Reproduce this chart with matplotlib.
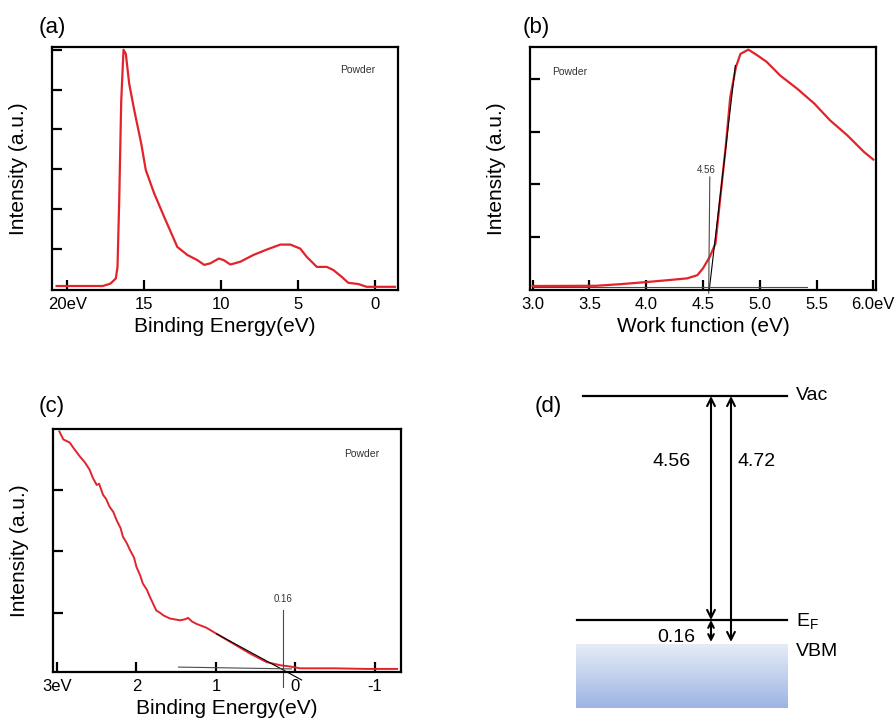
import numpy as np
import matplotlib
matplotlib.use("Agg")
import matplotlib.pyplot as plt

plt.rcParams['font.family'] = ['Liberation Sans', 'DejaVu Sans']
plt.rcParams['mathtext.fontset'] = 'custom'
plt.rcParams['mathtext.rm'] = 'Liberation Sans'

red = '#e2232b'
grey = '#4a4a4a'

# (a) full valence-band spectrum
be_a = [20.7, 17.7, 17.2, 16.85, 16.74, 16.63, 16.5, 16.35, 16.2, 15.98, 15.66, 15.2, 14.9,
        14.36, 13.7, 12.85, 12.2, 11.55, 11.1, 10.7, 10.15, 9.83, 9.4, 8.75, 7.9, 7.0, 6.15,
        5.5, 4.86, 4.43, 3.78, 3.13, 2.7, 2.16, 1.73, 1.08, 0.54, 0.0, -1.3]
int_a = [0.07, 0.07, 0.13, 0.26, 0.55, 2.2, 4.7, 6.0, 5.9, 5.15, 4.5, 3.65, 2.98,
         2.4, 1.8, 1.05, 0.85, 0.72, 0.6, 0.64, 0.76, 0.72, 0.61, 0.68, 0.85, 0.99, 1.11,
         1.11, 1.01, 0.8, 0.55, 0.55, 0.47, 0.3, 0.15, 0.12, 0.05, 0.05, 0.05]

# (b) secondary electron cutoff
wf_b = [3.0, 3.56, 3.77, 4.0, 4.21, 4.36, 4.45, 4.5, 4.56, 4.61, 4.65, 4.7, 4.74, 4.79,
        4.83, 4.9, 4.98, 5.06, 5.18, 5.33, 5.48, 5.62, 5.77, 5.92, 6.0]
int_b = [0.076, 0.08, 0.11, 0.15, 0.19, 0.22, 0.28, 0.41, 0.63, 0.88, 1.7, 2.71, 3.65, 4.22,
         4.47, 4.55, 4.44, 4.32, 4.06, 3.81, 3.53, 3.21, 2.93, 2.61, 2.47]
fit_b_x = [4.555, 4.785]
fit_b_y = [0.0, 4.25]
base_b_x = [3.0, 5.42]
base_b_y = [0.06, 0.06]
cut_b = 4.56

# (c) valence band edge
be_c = [2.97, 2.92, 2.84, 2.78, 2.71, 2.65, 2.59, 2.55, 2.5, 2.47, 2.42, 2.38, 2.34, 2.29,
        2.25, 2.2, 2.17, 2.12, 2.08, 2.03, 2.0, 1.95, 1.92, 1.87, 1.83, 1.79, 1.75, 1.7,
        1.66, 1.58, 1.45, 1.38, 1.35, 1.3, 1.24, 1.12, 0.99, 0.78, 0.57, 0.36, 0.19,
        0.07, -0.06, -0.48, -0.9, -1.28]
int_c = [3.95, 3.82, 3.77, 3.66, 3.54, 3.45, 3.33, 3.2, 3.08, 3.1, 2.92, 2.85, 2.73, 2.64,
         2.51, 2.38, 2.24, 2.13, 2.02, 1.9, 1.75, 1.6, 1.48, 1.38, 1.26, 1.15, 1.04, 1.0,
         0.96, 0.91, 0.88, 0.9, 0.92, 0.86, 0.82, 0.76, 0.66, 0.5, 0.34, 0.2, 0.15,
         0.13, 0.10, 0.10, 0.09, 0.09]
fit_c_x = [0.99, -0.08]
fit_c_y = [0.66, -0.09]
base_c_x = [1.47, 0.05]
base_c_y = [0.12, 0.09]
edge_c = 0.16

# (d) energy diagram
gap_vac_ef = 4.56
gap_vac_vbm = 4.72
gap_ef_vbm = 0.16

W, H = 896, 722
fig = plt.figure(figsize=(W / 100, H / 100), dpi=100)


def px_axes(x0, y0, x1, y1):
    return fig.add_axes([x0 / W, 1 - y1 / H, (x1 - x0) / W, (y1 - y0) / H])


def style(ax, ticks, labels, nyt, xlabel):
    ax.set_xticks(ticks)
    ax.set_xticklabels(labels)
    ax.set_yticks(range(1, nyt + 1))
    ax.set_yticklabels([])
    ax.tick_params(direction='in', length=7, width=1.6, top=False, right=False,
                   labelsize=12, pad=5)
    for sp in ax.spines.values():
        sp.set_linewidth(1.6)
    ax.set_ylabel("Intensity (a.u.)", fontsize=15, labelpad=12)
    ax.set_xlabel(xlabel, fontsize=15, labelpad=4)


def powder(ax, x, y):
    ax.text(x, y, "Powder", fontsize=7.5, ha='center', va='center', color='#333333')


# (a)
ax = px_axes(52, 47, 398, 290)
ax.plot(be_a, int_a, color=red, lw=1.6)
ax.set_xlim(21.0, -1.5)
ax.set_ylim(-0.03, 6.07)
style(ax, [20, 15, 10, 5, 0], ['20eV', '15', '10', '5', '0'], 6, "Binding Energy(eV)")
powder(ax, 1.1, 5.5)
fig.text(39 / W, 1 - 27 / H, "(a)", fontsize=16, va='center')

# (b)
ax = px_axes(530, 47, 876, 290)
ax.plot(wf_b, int_b, color=red, lw=1.6)
ax.plot(fit_b_x, fit_b_y, color='black', lw=0.8)
ax.plot(base_b_x, base_b_y, color=grey, lw=0.8)
ax.plot([cut_b, cut_b - 0.01], [2.14, -0.06], color=grey, lw=0.8, clip_on=False)
ax.text(cut_b - 0.03, 2.28, "4.56", fontsize=7, ha='center', va='center', color='#333333')
ax.set_xlim(2.976, 6.024)
ax.set_ylim(0, 4.6)
style(ax, [3.0, 3.5, 4.0, 4.5, 5.0, 5.5, 6.0],
      ['3.0', '3.5', '4.0', '4.5', '5.0', '5.5', '6.0eV'], 4, "Work function (eV)")
powder(ax, 3.33, 4.13)
fig.text(523 / W, 1 - 27 / H, "(b)", fontsize=16, va='center')

# (c)
ax = px_axes(53, 429, 401, 672)
ax.plot(be_c, int_c, color=red, lw=1.4)
ax.plot(fit_c_x, fit_c_y, color='black', lw=0.8, clip_on=False)
ax.plot(base_c_x, base_c_y, color=grey, lw=0.8)
ax.plot([edge_c, edge_c], [1.04, -0.2], color=grey, lw=0.8, clip_on=False)
ax.text(edge_c, 1.23, "0.16", fontsize=7, ha='center', va='center', color='#333333')
ax.set_xlim(3.05, -1.33)
ax.set_ylim(0.04, 3.99)
style(ax, [3, 2, 1, 0, -1], ['3eV', '2', '1', '0', '-1'], 3, "Binding Energy(eV)")
powder(ax, -0.84, 3.59)
fig.text(39 / W, 1 - 407 / H, "(c)", fontsize=16, va='center')

# (d) schematic, axes in pixel units of its region
axd = px_axes(520, 370, 896, 722)
axd.set_xlim(520, 896)
axd.set_ylim(722, 370)
axd.axis('off')
y_vac, y_ef, y_vbm, y_bot = 396, 620, 644, 708
axd.plot([583, 787], [y_vac, y_vac], color='black', lw=1.6)
axd.plot([577, 787], [y_ef, y_ef], color='black', lw=1.6)
grad = np.linspace(0, 1, 100)[:, None]
cmap = matplotlib.colors.LinearSegmentedColormap.from_list('vb', ['#e5ecf6', '#9db5e3'])
axd.imshow(grad, cmap=cmap, extent=[576, 788, y_bot, y_vbm], aspect='auto', zorder=0)
arrow = dict(arrowstyle='<->', lw=1.5, color='black', shrinkA=0, shrinkB=0,
             mutation_scale=14)
axd.annotate('', xy=(711, y_vac), xytext=(711, y_ef), arrowprops=arrow)
axd.annotate('', xy=(731, y_vac), xytext=(731, y_vbm - 2), arrowprops=arrow)
axd.annotate('', xy=(711, y_ef), xytext=(711, y_vbm - 2),
             arrowprops=dict(arrow, mutation_scale=10))
axd.text(691, 462, f"{gap_vac_ef:.2f}", fontsize=14, ha='right', va='center')
axd.text(737, 462, f"{gap_vac_vbm:.2f}", fontsize=14, ha='left', va='center')
axd.text(695, 637, f"{gap_ef_vbm:.2f}", fontsize=14, ha='right', va='center')
axd.text(796, 396, "Vac", fontsize=14, ha='left', va='center')
axd.text(796, 622, r"E$_\mathregular{F}$", fontsize=14, ha='left', va='center')
axd.text(796, 652, "VBM", fontsize=14, ha='left', va='center')
fig.text(535 / W, 1 - 407 / H, "(d)", fontsize=16, va='center')

fig.savefig("out.png", dpi=100)
